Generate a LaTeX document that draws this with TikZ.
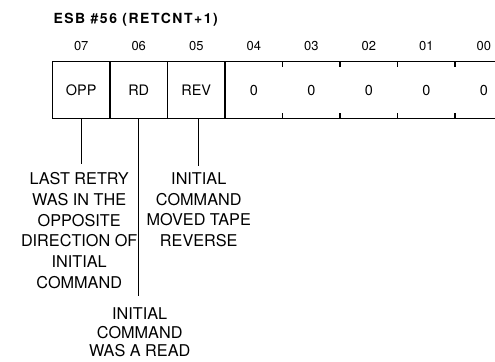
\documentclass[tikz,border=0pt]{standalone}
\usepackage{fontspec}
\setmainfont{TeX Gyre Heros}
\usetikzlibrary{positioning}
\tikzset{
	bitcell/.style={minimum width=56.43bp, minimum height=56bp, inner sep=0pt, font=\fontsize{14.5}{16}\selectfont},
	bitnum/.style={inner sep=0pt, font=\fontsize{13}{14}\selectfont},
	note/.style={align=center, inner sep=0pt, font=\fontsize{16.3}{20.8}\selectfont},
	frame/.style={line width=1.5bp},
}
\begin{document}
\begin{tikzpicture}[x=1bp, y=1bp, line width=1.1bp]
	\useasboundingbox (0,0) rectangle (495,-361);
	\node[anchor=base west, inner sep=0pt, font=\bfseries\fontsize{14}{16}\selectfont\addfontfeatures{LetterSpace=11}] (title) at (53,-23) {ESB \#56 (RETCNT+1)};
	%	cells
	\node[bitcell] (c7) at (81.2,-90) {OPP};
	\foreach \name/\prev/\txt in {c6/c7/RD, c5/c6/REV, c4/c5/0, c3/c4/0, c2/c3/0, c1/c2/0, c0/c1/0}
		\node[bitcell, right=0pt of \prev] (\name) {\txt};
	\foreach \i in {0,...,7}
		\node[bitnum, above=10bp of c\i] (n\i) {0\i};
	\draw[frame] (c7.north west) rectangle (c0.south east);
	\foreach \i in {7,6,5}
		\draw[frame] (c\i.north east) -- (c\i.south east);
	\foreach \i in {3,2,1,0}
		\draw[frame] (c\i.north west) -- ++(0,-6) (c\i.south west) -- ++(0,6);
	%	notes
	\node[note, below=53.5bp of c7, xshift=-2bp] (opptext) {LAST RETRY\\WAS IN THE\\OPPOSITE\\DIRECTION OF\\INITIAL\\COMMAND};
	\node[note, below=53.5bp of c5, xshift=2.5bp] (revtext) {INITIAL\\COMMAND\\MOVED TAPE\\REVERSE};
	\node[note, below=188.5bp of c6, xshift=1bp, font=\fontsize{16.3}{18.7}\selectfont] (rdtext) {INITIAL\\COMMAND\\WAS A READ};
	\draw[shorten >=8.5bp] (c7.south) -- ([xshift=2bp]opptext.north);
	\draw[shorten >=6.5bp] ([xshift=2.5bp]c5.south) -- (revtext.north);
	\draw[shorten >=11.5bp] (c6.south) -- ([xshift=-1bp]rdtext.north);
\end{tikzpicture}
\end{document}
